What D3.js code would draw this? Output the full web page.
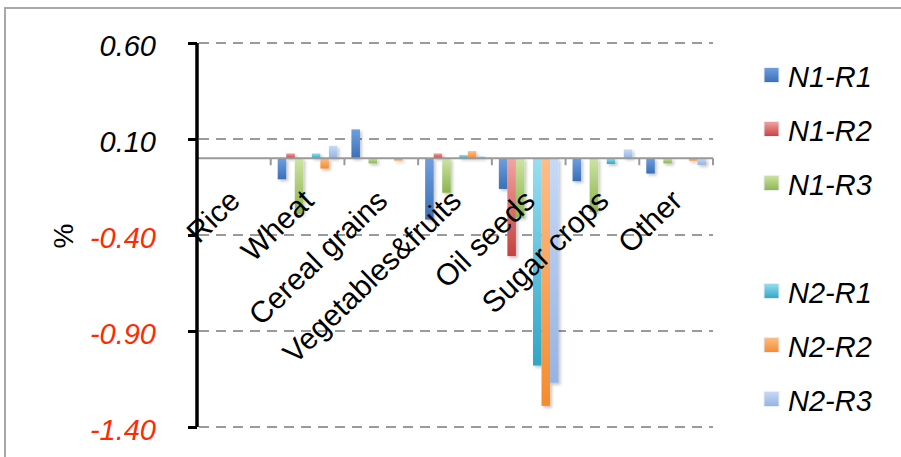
<!DOCTYPE html>
<html>
<head>
<meta charset="utf-8">
<script src="https://cdn.jsdelivr.net/npm/d3@7/dist/d3.min.js"></script>
<style>
  html, body { margin: 0; padding: 0; background: #fff; }
  svg { display: block; font-family: "Liberation Sans", Arial, sans-serif; }
</style>
</head>
<body>
<svg id="chart" width="901" height="457"></svg>
<script>
// Percentage change by crop group, two N scenarios x three R variants
const categories = ["Rice", "Wheat", "Cereal grains", "Vegetables&fruits", "Oil seeds", "Sugar crops", "Other"];
const n1r1 = [0, -0.11, 0.15, -0.32, -0.16, -0.12, -0.08];
const n1r2 = [0, 0.025, 0, 0.025, -0.51, 0, 0];
const n1r3 = [0, -0.29, -0.027, -0.18, -0.31, -0.28, -0.027];
const n2r1 = [0, 0.025, 0, 0.017, -1.08, -0.03, 0];
const n2r2 = [0, -0.054, -0.012, 0.037, -1.29, 0, -0.013];
const n2r3 = [0, 0.064, 0, 0.01, -1.17, 0.046, -0.035];
// legend / cluster slots; the blank slot leaves a gap between the N1 and N2 groups
const slots = ["N1-R1", "N1-R2", "N1-R3", "", "N2-R1", "N2-R2", "N2-R3"];
const yTicks = [0.6, 0.1, -0.4, -0.9, -1.4];

const series = [
  { name: "N1-R1", values: n1r1, top: "#6e9fe0", bottom: "#3a6fb6" },
  { name: "N1-R2", values: n1r2, top: "#f3a4a2", bottom: "#c4423f" },
  { name: "N1-R3", values: n1r3, top: "#cde4a2", bottom: "#8cb350" },
  { name: "N2-R1", values: n2r1, top: "#98def1", bottom: "#2fa6c6" },
  { name: "N2-R2", values: n2r2, top: "#fdbd88", bottom: "#f48c2f" },
  { name: "N2-R3", values: n2r3, top: "#c6d9f7", bottom: "#97b3e2" }
];

const svg = d3.select("#chart");
const defs = svg.append("defs");

series.forEach((s, i) => {
  const g = defs.append("linearGradient")
    .attr("id", "grad" + i)
    .attr("x1", 0).attr("y1", 0).attr("x2", 0).attr("y2", 1);
  g.append("stop").attr("offset", "0%").attr("stop-color", s.top);
  g.append("stop").attr("offset", "100%").attr("stop-color", s.bottom);
});

const shadow = defs.append("filter").attr("id", "shadow")
  .attr("x", "-50%").attr("y", "-20%").attr("width", "200%").attr("height", "140%");
shadow.append("feDropShadow")
  .attr("dx", 2).attr("dy", 2).attr("stdDeviation", 1.5)
  .attr("flood-color", "#000").attr("flood-opacity", 0.22);

// outer frame
svg.append("rect")
  .attr("x", 5).attr("y", 8).attr("width", 910).attr("height", 470)
  .attr("fill", "none").attr("stroke", "#a8a8a8").attr("stroke-width", 2);

const plotLeft = 197, plotRight = 713, plotTop = 43, plotBottom = 427;

const y = d3.scaleLinear().domain([-1.4, 0.6]).range([plotBottom, plotTop]);
const x0 = d3.scaleBand().domain(categories).range([plotLeft, plotRight]).padding(0);
const x1 = d3.scaleBand().domain(slots).range([0, x0.bandwidth()])
  .paddingInner(0).paddingOuter(0.82);

// dashed gridlines
svg.append("g").selectAll("line")
  .data(yTicks)
  .join("line")
  .attr("x1", plotLeft + 2).attr("x2", plotRight)
  .attr("y1", d => y(d)).attr("y2", d => y(d))
  .attr("stroke", "#9a9a9a").attr("stroke-width", 2)
  .attr("stroke-dasharray", "10,7");

// bars
const barG = svg.append("g").attr("filter", "url(#shadow)");
series.forEach((s, i) => {
  barG.append("g")
    .selectAll("rect")
    .data(categories.map((c, j) => ({ c, v: s.values[j] })))
    .join("rect")
    .attr("x", d => x0(d.c) + x1(s.name))
    .attr("width", x1.bandwidth())
    .attr("y", d => y(Math.max(0, d.v)))
    .attr("height", d => Math.abs(y(d.v) - y(0)))
    .attr("fill", `url(#grad${i})`);
});

// category axis at zero
const xAxis = svg.append("g");
xAxis.append("line")
  .attr("x1", plotLeft).attr("x2", plotRight)
  .attr("y1", y(0)).attr("y2", y(0))
  .attr("stroke", "#999").attr("stroke-width", 2);
const bounds = categories.map(c => x0(c)).concat([x0.range()[1]]);
xAxis.selectAll("line.tick")
  .data(bounds.slice(1))
  .join("line")
  .attr("class", "tick")
  .attr("x1", d => d).attr("x2", d => d)
  .attr("y1", y(0)).attr("y2", y(0) + 7)
  .attr("stroke", "#999").attr("stroke-width", 2);

// rotated category labels
svg.append("g").selectAll("text")
  .data(categories)
  .join("text")
  .attr("transform", d => `translate(${x0(d) + x0.bandwidth() / 2 - 7},${y(0) + 29}) rotate(-44)`)
  .attr("text-anchor", "end")
  .attr("dy", "0.72em")
  .attr("font-size", 30)
  .attr("fill", "#000")
  .text(d => d);

// value axis
const yAxis = svg.append("g")
  .attr("transform", `translate(${plotLeft},0)`)
  .call(d3.axisLeft(y).tickValues(yTicks).tickSize(9).tickPadding(32)
    .tickFormat(d => d.toFixed(2)));
yAxis.select(".domain").remove();
yAxis.append("line")
  .attr("x1", 0).attr("x2", 0).attr("y1", plotTop).attr("y2", plotBottom)
  .attr("stroke", "#000").attr("stroke-width", 3.5);
yAxis.selectAll(".tick line").attr("stroke", "#000").attr("stroke-width", 3);
yAxis.selectAll(".tick text")
  .attr("font-size", 29)
  .attr("font-style", "italic")
  .attr("font-family", "'Liberation Sans', Arial, sans-serif")
  .attr("dy", "0.42em")
  .attr("fill", d => d < 0 ? "#ff2a00" : "#000");

// axis title
svg.append("text")
  .attr("transform", "translate(63,236) rotate(-90)")
  .attr("text-anchor", "middle")
  .attr("dominant-baseline", "central")
  .attr("font-size", 28)
  .text("%");

// legend
const legend = svg.append("g");
const legendTop = 75, legendStep = 54;
slots.forEach((name, k) => {
  if (!name) return;
  const i = series.findIndex(s => s.name === name);
  const cy = legendTop + k * legendStep;
  legend.append("rect")
    .attr("x", 764).attr("y", cy - 7.5)
    .attr("width", 15).attr("height", 15)
    .attr("fill", `url(#grad${i})`)
    .attr("stroke", "#e6eef8").attr("stroke-width", 1);
  legend.append("text")
    .attr("x", 788).attr("y", cy + 12)
    .attr("font-size", 29)
    .attr("font-style", "italic")
    .text(name);
});
</script>
</body>
</html>
